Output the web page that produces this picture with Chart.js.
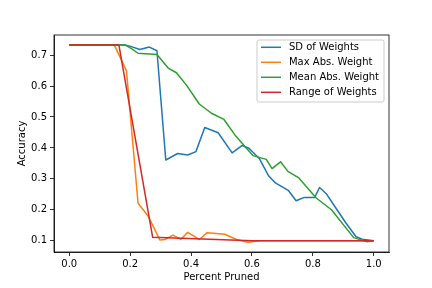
<!DOCTYPE html>
<html>
<head>
<meta charset="utf-8">
<script src="https://cdn.jsdelivr.net/npm/chart.js@4"></script>
<style>
  html, body { margin: 0; padding: 0; background: #fff; }
  #wrap { width: 432px; height: 288px; }
</style>
</head>
<body>
<div id="wrap"><canvas id="chart" width="432" height="288"></canvas></div>
<script>
// series (x = percent pruned, y = accuracy)
const seriesNames = ["SD of Weights", "Max Abs. Weight", "Mean Abs. Weight", "Range of Weights"];
const colors = ["#1f77b4", "#ff7f0e", "#2ca02c", "#d62728"];

const sdX = [0, 0.183, 0.199, 0.232, 0.263, 0.288, 0.317, 0.356, 0.389, 0.416, 0.445, 0.489, 0.535, 0.568, 0.590, 0.624, 0.655, 0.677, 0.719, 0.745, 0.772, 0.806, 0.822, 0.844, 0.882, 0.908, 0.942, 0.962, 1.0];
const sdY = [0.733, 0.733, 0.729, 0.718, 0.726, 0.714, 0.361, 0.382, 0.377, 0.388, 0.466, 0.449, 0.384, 0.408, 0.399, 0.366, 0.309, 0.287, 0.263, 0.229, 0.240, 0.240, 0.272, 0.252, 0.196, 0.158, 0.113, 0.105, 0.100];

const maxX = [0, 0.148, 0.188, 0.226, 0.259, 0.298, 0.314, 0.341, 0.366, 0.389, 0.427, 0.453, 0.511, 0.549, 0.587, 0.626, 1.0];
const maxY = [0.733, 0.733, 0.649, 0.221, 0.180, 0.102, 0.104, 0.118, 0.104, 0.127, 0.104, 0.126, 0.121, 0.104, 0.095, 0.100, 0.100];

const meanX = [0, 0.183, 0.203, 0.226, 0.288, 0.325, 0.352, 0.385, 0.427, 0.467, 0.508, 0.544, 0.582, 0.604, 0.647, 0.666, 0.694, 0.718, 0.754, 0.811, 0.861, 0.934, 0.976, 1.0];
const meanY = [0.733, 0.733, 0.722, 0.706, 0.702, 0.658, 0.643, 0.603, 0.542, 0.512, 0.492, 0.442, 0.399, 0.375, 0.363, 0.333, 0.355, 0.324, 0.303, 0.238, 0.200, 0.110, 0.097, 0.100];

const rangeX = [0, 0.163, 0.274, 0.600, 1.0];
const rangeY = [0.733, 0.733, 0.111, 0.100, 0.100];

const xTicks = [0.0, 0.2, 0.4, 0.6, 0.8, 1.0];
const yTicks = [0.1, 0.2, 0.3, 0.4, 0.5, 0.6, 0.7];

function pts(xs, ys) {
  return xs.map((x, i) => ({ x: x, y: ys[i] }));
}

Chart.defaults.font.family = "'DejaVu Sans', sans-serif";
Chart.defaults.font.size = 10;
Chart.defaults.color = "#000";

// black frame all round, like the matplotlib spines
const frame = {
  id: "frame",
  afterDatasetsDraw(chart) {
    const a = chart.chartArea, ctx = chart.ctx;
    ctx.save();
    ctx.strokeStyle = "#000";
    ctx.lineWidth = 0.8;
    ctx.strokeRect(a.left, a.top, a.right - a.left, a.bottom - a.top);
    ctx.restore();
  }
};

// legend box in the upper right corner
const boxLegend = {
  id: "boxLegend",
  afterDraw(chart) {
    const ctx = chart.ctx, a = chart.chartArea;
    ctx.save();
    ctx.font = "10px 'DejaVu Sans'";
    const sets = chart.data.datasets;
    const maxW = Math.max(...sets.map(d => ctx.measureText(d.label).width));
    const w = 4 + 20 + 8 + maxW + 5, h = 62;
    const right = a.right - 5, top = a.top + 5, left = right - w;
    ctx.beginPath();
    ctx.roundRect(left, top, w, h, 2);
    ctx.fillStyle = "rgba(255,255,255,0.8)";
    ctx.fill();
    ctx.strokeStyle = "#cccccc";
    ctx.lineWidth = 1;
    ctx.stroke();
    ctx.textBaseline = "middle";
    ctx.textAlign = "left";
    sets.forEach((d, i) => {
      const y = top + 7.3 + i * 15;
      ctx.beginPath();
      ctx.moveTo(left + 4, y);
      ctx.lineTo(left + 24, y);
      ctx.strokeStyle = d.borderColor;
      ctx.lineWidth = 1.5;
      ctx.stroke();
      ctx.fillStyle = "#000";
      ctx.fillText(d.label, left + 32, y);
    });
    ctx.restore();
  }
};

const allX = [sdX, maxX, meanX, rangeX];
const allY = [sdY, maxY, meanY, rangeY];

new Chart(document.getElementById("chart"), {
  type: "line",
  data: {
    datasets: seriesNames.map((name, i) => ({
      label: name,
      data: pts(allX[i], allY[i]),
      borderColor: colors[i],
      backgroundColor: colors[i],
      borderWidth: 1.5,
      pointRadius: 0,
      tension: 0,
      fill: false,
      borderJoinStyle: "round",
      order: 3 - i,
    })),
  },
  options: {
    responsive: false,
    animation: false,
    layout: { padding: { left: 0, right: 43, top: 35, bottom: 0 } },
    plugins: { legend: { display: false }, tooltip: { enabled: false } },
    scales: {
      x: {
        type: "linear",
        min: -0.05,
        max: 1.05,
        afterBuildTicks: (s) => { s.ticks = xTicks.map(v => ({ value: v })); },
        afterFit: (s) => { s.height = 36; },
        ticks: { callback: (v) => v.toFixed(1), padding: 2, maxRotation: 0 },
        grid: { drawOnChartArea: false, tickLength: 4, color: "#000", lineWidth: 0.8 },
        border: { color: "#000", width: 0.8 },
        title: { display: true, text: "Percent Pruned", padding: { top: 0, bottom: 5 } },
      },
      y: {
        type: "linear",
        min: 0.0635,
        max: 0.765,
        afterBuildTicks: (s) => { s.ticks = yTicks.map(v => ({ value: v })); },
        afterFit: (s) => { s.width = 54; },
        ticks: { callback: (v) => v.toFixed(1), padding: 3 },
        grid: { drawOnChartArea: false, tickLength: 4, color: "#000", lineWidth: 0.8 },
        border: { color: "#000", width: 0.8 },
        title: { display: true, text: "Accuracy", padding: { top: 16, bottom: 0 } },
      },
    },
  },
  plugins: [frame, boxLegend],
});
</script>
</body>
</html>
